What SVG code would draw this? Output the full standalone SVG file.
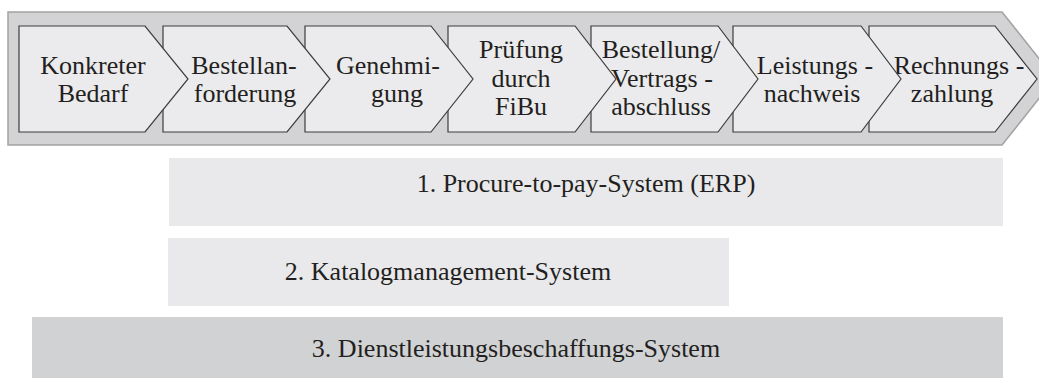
<svg xmlns="http://www.w3.org/2000/svg" width="1039" height="378" viewBox="0 0 1039 378">
<style>
.outer{fill:#d3d3d5;stroke:#a3a3a3;stroke-width:1.5}
.chev{fill:#ebebed;stroke:#3c3c3c;stroke-width:1.2}
.lbl{font-family:'Liberation Serif','DejaVu Serif',serif;font-size:26px;fill:#231f20;text-anchor:middle}
.barL{fill:#e9e9eb}
.barD{fill:#d1d2d4}
</style>
<rect width="1039" height="378" fill="#ffffff"/>
<g id="process-arrow">
<polygon class="outer" points="8,12 1002,12 1055,78.5 1002,145 8,145"/>
</g>
<g id="connectors"></g>
<g id="step7">
<polygon class="chev" points="869,26 995,26 1037,79 995,132 869,132"/>
<text class="lbl" font-family="Liberation Serif, serif"><tspan x="959" y="74">Rechnungs -</tspan><tspan x="952" y="102">zahlung</tspan></text>
</g>
<g id="step6">
<polygon class="chev" points="733,26 861,26 901,79 861,132 733,132"/>
<text class="lbl" font-family="Liberation Serif, serif"><tspan x="815" y="74">Leistungs -</tspan><tspan x="812" y="102">nachweis</tspan></text>
</g>
<g id="step5">
<polygon class="chev" points="591,26 718,26 758,79 718,132 591,132"/>
<text class="lbl" font-family="Liberation Serif, serif"><tspan x="661" y="58">Bestellung/</tspan><tspan x="662" y="87">Vertrags -</tspan><tspan x="661" y="115">abschluss</tspan></text>
</g>
<g id="step4">
<polygon class="chev" points="448,26 575,26 616,79 575,132 448,132"/>
<text class="lbl" font-family="Liberation Serif, serif"><tspan x="521" y="58">Prüfung</tspan><tspan x="521" y="87">durch</tspan><tspan x="521" y="115">FiBu</tspan></text>
</g>
<g id="step3">
<polygon class="chev" points="305,26 431,26 473,79 431,132 305,132"/>
<text class="lbl" font-family="Liberation Serif, serif"><tspan x="388" y="74">Genehmi-</tspan><tspan x="397" y="102">gung</tspan></text>
</g>
<g id="step2">
<polygon class="chev" points="163,26 287,26 330,79 287,132 163,132"/>
<text class="lbl" font-family="Liberation Serif, serif"><tspan x="244" y="74">Bestellan-</tspan><tspan x="245" y="102">forderung</tspan></text>
</g>
<g id="step1">
<polygon class="chev" points="19,26 145,26 188,79 145,132 19,132"/>
<text class="lbl" font-family="Liberation Serif, serif"><tspan x="93" y="74">Konkreter</tspan><tspan x="93" y="102">Bedarf</tspan></text>
</g>
<g id="system1">
<rect class="barL" x="169" y="158" width="834" height="68"/>
<text class="lbl" font-family="Liberation Serif, serif" x="586" y="192">1. Procure-to-pay-System (ERP)</text>
</g>
<g id="system2">
<rect class="barL" x="168" y="238" width="561" height="68"/>
<text class="lbl" font-family="Liberation Serif, serif" x="448" y="280">2. Katalogmanagement-System</text>
</g>
<g id="system3">
<rect class="barD" x="32" y="317" width="971" height="61"/>
<text class="lbl" font-family="Liberation Serif, serif" x="516" y="357">3. Dienstleistungsbeschaffungs-System</text>
</g>
</svg>
